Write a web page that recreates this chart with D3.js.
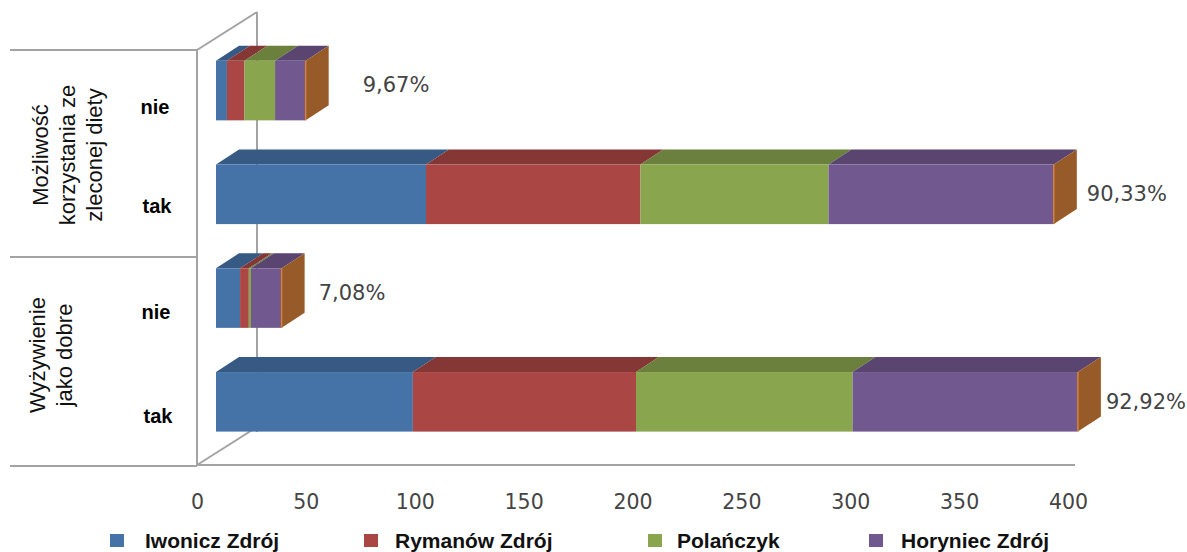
<!DOCTYPE html>
<html lang="pl">
<head>
<meta charset="utf-8">
<script src="https://cdn.jsdelivr.net/npm/d3@7/dist/d3.min.js"></script>
<style>
  html, body { margin: 0; padding: 0; background: #fff; }
  svg { display: block; }
  .cat { font: bold 20px "Liberation Sans", Arial, sans-serif; fill: #000; }
  .group { font: 22px "Liberation Sans", Arial, sans-serif; fill: #111; }
  .pct { font: 21px "DejaVu Sans", Verdana, sans-serif; fill: #444; }
  .tick text { font: 20.5px "DejaVu Sans", Verdana, sans-serif; fill: #444; }
  .legend { font: bold 21px "Liberation Sans", Arial, sans-serif; fill: #111; }
</style>
</head>
<body>
<svg id="chart" width="1187" height="552"></svg>
<script>
// Survey answers per spa town, two questions with yes/no answers
const categories = ["nie-dieta", "tak-dieta", "nie-wyzywienie", "tak-wyzywienie"];
const categoryLabels = ["nie", "tak", "nie", "tak"];
const seriesNames = ["Iwonicz Zdrój", "Rymanów Zdrój", "Polańczyk", "Horyniec Zdrój"];
const iwonicz = [5, 96, 11, 90];
const rymanow = [8, 98, 4, 102];
const polanczyk = [14, 86, 1, 99];
const horyniec = [14, 103, 14, 103];
const percentLabels = ["9,67%", "90,33%", "7,08%", "92,92%"];
const axisTicks = [0, 50, 100, 150, 200, 250, 300, 350, 400];

const seriesColors = ["#4572a7", "#aa4643", "#89a54e", "#71588f"];
const topColors = ["#375a84", "#843735", "#6a803c", "#594570"];
const sideColor = "#975a29";
const edgeColor = "#d98035";
const wallColor = "#a3a3a3";

const svg = d3.select("#chart");
const depthX = 23, depthY = -15;

const rows = categories.map((c, i) => ({
  key: c,
  [seriesNames[0]]: iwonicz[i],
  [seriesNames[1]]: rymanow[i],
  [seriesNames[2]]: polanczyk[i],
  [seriesNames[3]]: horyniec[i]
}));
const stacked = d3.stack().keys(seriesNames)(rows);

const x = d3.scaleLinear().domain([0, 400]).range([216, 1091]);
const axisX = d3.scaleLinear().domain([0, 400]).range([197, 1068]);
const y = d3.scaleBand().domain(categories).range([38.7, 453.7])
  .paddingInner(0.426).paddingOuter(0.213);

// Walls and floor of the 3D frame
const frame = [
  [[10, 50], [197, 50]],
  [[10, 257], [197, 257]],
  [[10, 466], [197, 466]],
  [[197, 465], [1075, 465]],
  [[197, 50], [197, 465]],
  [[197, 50], [257, 12]],
  [[257, 12], [257, 432]],
  [[197, 465], [257, 427]]
];
svg.append("g").selectAll("line").data(frame).join("line")
  .attr("x1", d => d[0][0]).attr("y1", d => d[0][1])
  .attr("x2", d => d[1][0]).attr("y2", d => d[1][1])
  .attr("stroke", wallColor).attr("stroke-width", 2);

// Value axis: labels only, the floor line carries the baseline
const axis = svg.append("g").attr("transform", "translate(0,494)")
  .call(d3.axisBottom(axisX).tickValues(axisTicks).tickSize(0).tickPadding(0));
axis.select(".domain").remove();

// Stacked bars: top face and front face per segment
const bars = svg.append("g");
stacked.forEach((layer, s) => {
  const g = bars.append("g");
  g.selectAll("path.top").data(layer).join("path")
    .attr("class", "top")
    .attr("fill", topColors[s])
    .attr("d", d => {
      const x0 = x(d[0]), x1 = x(d[1]), yt = y(d.data.key);
      return `M${x0},${yt}L${x0 + depthX},${yt + depthY}L${x1 + depthX},${yt + depthY}L${x1},${yt}Z`;
    });
  g.selectAll("rect").data(layer).join("rect")
    .attr("x", d => x(d[0]))
    .attr("y", d => y(d.data.key))
    .attr("width", d => x(d[1]) - x(d[0]))
    .attr("height", y.bandwidth())
    .attr("fill", seriesColors[s]);
});

// Right-hand end cap of each bar
const totals = rows.map((r, i) => iwonicz[i] + rymanow[i] + polanczyk[i] + horyniec[i]);
bars.append("g").selectAll("path").data(categories).join("path")
  .attr("fill", sideColor)
  .attr("d", (c, i) => {
    const xe = x(totals[i]), yt = y(c), h = y.bandwidth();
    return `M${xe},${yt}L${xe + depthX},${yt + depthY}L${xe + depthX},${yt + h + depthY}L${xe},${yt + h}Z`;
  });
bars.append("g").selectAll("line").data(categories).join("line")
  .attr("x1", (c, i) => x(totals[i])).attr("x2", (c, i) => x(totals[i]))
  .attr("y1", c => y(c)).attr("y2", c => y(c) + y.bandwidth())
  .attr("stroke", edgeColor).attr("stroke-width", 1.5);

// Percentage labels next to the end caps
const labelShift = [[34, -5], [10, 1], [14, -4], [5, 1]];
svg.append("g").selectAll("text").data(categories).join("text")
  .attr("class", "pct")
  .attr("x", (c, i) => x(totals[i]) + depthX + labelShift[i][0])
  .attr("y", (c, i) => y(c) + y.bandwidth() / 2 + labelShift[i][1])
  .attr("dominant-baseline", "middle")
  .text((c, i) => percentLabels[i]);

// Answer labels to the left of the axis
const catShift = [[155, 18], [157, 13], [156, 16], [158, 16]];
svg.append("g").selectAll("text").data(categories).join("text")
  .attr("class", "cat")
  .attr("text-anchor", "middle")
  .attr("dominant-baseline", "middle")
  .attr("x", (c, i) => catShift[i][0])
  .attr("y", (c, i) => y(c) + y.bandwidth() / 2 + catShift[i][1])
  .text((c, i) => categoryLabels[i]);

// Rotated question titles, one entry per line
const groupLines = [
  { text: "Możliwość", x: 48, y: 155 },
  { text: "korzystania ze", x: 75, y: 155 },
  { text: "zleconej diety", x: 102, y: 155 },
  { text: "Wyżywienie", x: 45, y: 355 },
  { text: "jako dobre", x: 72, y: 355 }
];
svg.append("g").selectAll("text").data(groupLines).join("text")
  .attr("class", "group")
  .attr("text-anchor", "middle")
  .attr("transform", d => `translate(${d.x},${d.y}) rotate(-90)`)
  .text(d => d.text);

// Legend
const legendSwatchX = [110, 364, 648, 869];
const legendTextX = [145, 395, 677, 901];
const legend = svg.append("g").selectAll("g").data(seriesNames).join("g");
legend.append("rect")
  .attr("x", (d, i) => legendSwatchX[i]).attr("y", 534)
  .attr("width", 14).attr("height", 13)
  .attr("fill", (d, i) => seriesColors[i]);
legend.append("text")
  .attr("class", "legend")
  .attr("x", (d, i) => legendTextX[i]).attr("y", 548)
  .text(d => d);
</script>
</body>
</html>
